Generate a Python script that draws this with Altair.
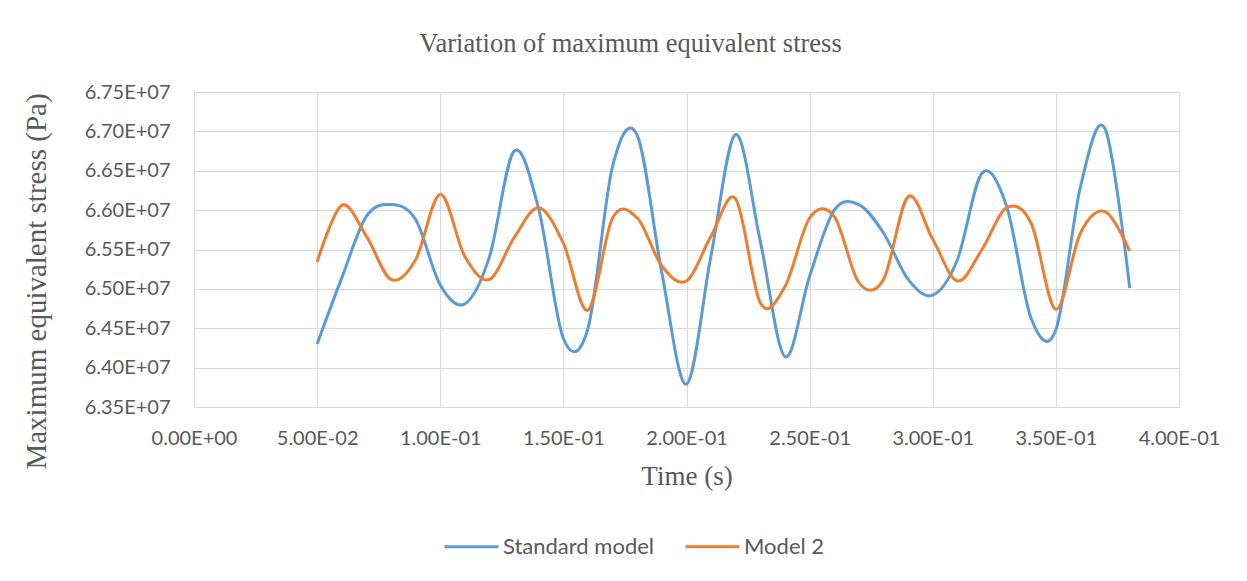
import json
import altair as alt
import pandas as pd

time_s = [0.05, 0.06, 0.07, 0.08, 0.09, 0.10, 0.11, 0.12, 0.13, 0.14, 0.15, 0.16,
          0.17, 0.18, 0.19, 0.20, 0.21, 0.22, 0.23, 0.24, 0.25, 0.26, 0.27, 0.28,
          0.29, 0.30, 0.31, 0.32, 0.33, 0.34, 0.35, 0.36, 0.37, 0.38]

standard_model = [6.430e7, 6.514e7, 6.592e7, 6.607e7, 6.588e7, 6.505e7, 6.481e7, 6.541e7,
                  6.675e7, 6.601e7, 6.437e7, 6.450e7, 6.656e7, 6.695e7, 6.520e7, 6.379e7,
                  6.543e7, 6.696e7, 6.560e7, 6.414e7, 6.516e7, 6.600e7, 6.607e7, 6.571e7,
                  6.512e7, 6.492e7, 6.537e7, 6.647e7, 6.605e7, 6.462e7, 6.448e7, 6.630e7,
                  6.703e7, 6.501e7]

model_2 = [6.534e7, 6.606e7, 6.567e7, 6.512e7, 6.537e7, 6.620e7, 6.541e7, 6.512e7,
           6.565e7, 6.603e7, 6.558e7, 6.473e7, 6.590e7, 6.590e7, 6.529e7, 6.510e7,
           6.567e7, 6.614e7, 6.482e7, 6.503e7, 6.590e7, 6.592e7, 6.508e7, 6.512e7,
           6.617e7, 6.563e7, 6.510e7, 6.550e7, 6.603e7, 6.583e7, 6.474e7, 6.571e7,
           6.598e7, 6.548e7]

series_names = ["Standard model", "Model 2"]
series_colors = ["#5b9bd5", "#ed7d31"]

x_ticks = [0.0, 0.05, 0.10, 0.15, 0.20, 0.25, 0.30, 0.35, 0.40]
x_tick_labels = ["0.00E+00", "5.00E-02", "1.00E-01", "1.50E-01", "2.00E-01",
                 "2.50E-01", "3.00E-01", "3.50E-01", "4.00E-01"]
y_ticks = [6.35e7, 6.40e7, 6.45e7, 6.50e7, 6.55e7, 6.60e7, 6.65e7, 6.70e7, 6.75e7]
y_tick_labels = ["6.35E+07", "6.40E+07", "6.45E+07", "6.50E+07", "6.55E+07",
                 "6.60E+07", "6.65E+07", "6.70E+07", "6.75E+07"]

rows = []
for name, vals in zip(series_names, [standard_model, model_2]):
    for t, v in zip(time_s, vals):
        rows.append({"time": t, "stress": v, "series": name})
df = pd.DataFrame(rows)

grid_color = "#d9d9d9"
text_color = "#595959"
serif = "Liberation Serif"
sans = "Lato"

x_label_expr = f"{json.dumps(x_tick_labels)}[round(datum.value / 0.05)]"
y_label_expr = f"{json.dumps(y_tick_labels)}[round((datum.value - 63500000) / 500000)]"

chart = alt.Chart(df).mark_line(
    interpolate="cardinal", strokeWidth=3, clip=True
).encode(
    x=alt.X("time:Q",
            scale=alt.Scale(domain=[0, 0.4], nice=False, zero=False),
            axis=alt.Axis(values=x_ticks, labelExpr=x_label_expr, title="Time (s)",
                          grid=True, gridColor=grid_color, domain=True,
                          domainColor=grid_color, ticks=False, tickSize=0,
                          labelFlush=False, labelOverlap=False,
                          labelPadding=21, labelFont=sans, labelFontSize=20,
                          labelColor=text_color, titleFont=serif, titleFontSize=27,
                          titleFontWeight="normal", titleColor=text_color,
                          titleY=69, titleBaseline="middle")),
    y=alt.Y("stress:Q",
            scale=alt.Scale(domain=[6.35e7, 6.75e7], nice=False, zero=False),
            axis=alt.Axis(values=y_ticks, labelExpr=y_label_expr,
                          title="Maximum equivalent stress (Pa)",
                          grid=True, gridColor=grid_color, domain=False,
                          ticks=False, tickSize=0, labelPadding=24,
                          labelFlush=False, labelOverlap=False,
                          labelFont=sans, labelFontSize=20, labelColor=text_color,
                          titleFont=serif, titleFontSize=29, titleFontWeight="normal",
                          titleColor=text_color, titleX=-158, titleY=189,
                          titleAngle=270, titleBaseline="middle")),
    color=alt.Color("series:N",
                    scale=alt.Scale(domain=series_names, range=series_colors),
                    sort=series_names,
                    legend=alt.Legend(title=None, orient="none", direction="horizontal",
                                      legendX=249, legendY=426, symbolType="stroke",
                                      symbolSize=2916, symbolStrokeWidth=3,
                                      labelFont=sans, labelFontSize=22,
                                      labelColor=text_color, labelOffset=3,
                                      columnPadding=24)),
).properties(
    width=985,
    height=315,
    title=alt.TitleParams(text="Variation of maximum equivalent stress", font=serif,
                          fontSize=26.5, fontWeight="normal", color=text_color,
                          anchor="middle", dx=-56, offset=4, baseline="alphabetic"),
    autosize=alt.AutoSizeParams(type="none"),
    padding={"left": 186, "top": 84, "right": 60, "bottom": 160},
).configure_view(stroke=None)

chart.save("out.html", embed_options={"renderer": "svg", "actions": False})
